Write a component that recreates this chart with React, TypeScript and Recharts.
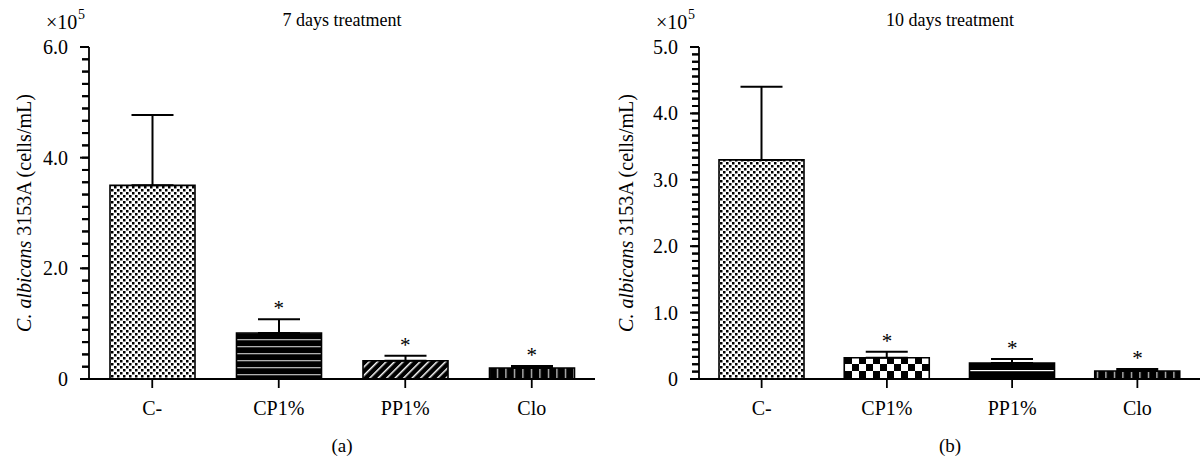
import { ComposedChart, Bar, Line, XAxis, YAxis, ErrorBar, LabelList, Cell } from "recharts"

const categories = ["C-", "CP1%", "PP1%", "Clo"]
const day7Mean = [3.5, 0.83, 0.33, 0.2]
const day7Err = [1.27, 0.25, 0.09, 0.035]
const day10Mean = [3.3, 0.32, 0.24, 0.12]
const day10Err = [1.1, 0.09, 0.06, 0.03]
const significant = [false, true, true, true]
const day7Majors = [0, 2, 4, 6]
const day10Majors = [0, 1, 2, 3, 4, 5]
const minorSteps = 9

const font = "Liberation Serif, serif"

function buildTicks(majors: number[]) {
  const out: number[] = []
  for (let k = 0; k < majors.length - 1; k++) {
    const step = (majors[k + 1] - majors[k]) / minorSteps
    for (let j = 0; j < minorSteps; j++) out.push(majors[k] + j * step)
  }
  out.push(majors[majors.length - 1])
  return out
}

function buildData(means: number[], errs: number[]) {
  return categories.map((name, i) => ({
    name,
    mean: means[i],
    err: [0, errs[i]],
    top: means[i] + errs[i],
  }))
}

// x arrives at the outer end of the 7px tick line
function YTick(props: any) {
  const { x, y, payload, majors } = props
  const major = majors.some((m: number) => Math.abs(m - payload.value) < 1e-6)
  return (
    <g>
      <line x1={major ? x - 2 : x} x2={x + 7} y1={y} y2={y} stroke="#000" strokeWidth={2} />
      {major ? (
        <text x={x - 14} y={y} dy="0.35em" textAnchor="end" fontSize={20} fill="#000" fontFamily={font}>
          {payload.value === 0 ? "0" : payload.value.toFixed(1)}
        </text>
      ) : null}
    </g>
  )
}

function XTick(props: any) {
  const { x, y, payload } = props
  return (
    <g>
      <line x1={x} x2={x} y1={y} y2={y + 9} stroke="#000" strokeWidth={1.8} />
      <text x={x} y={y + 36} textAnchor="middle" fontSize={20} fill="#000" fontFamily={font}>
        {payload.value}
      </text>
    </g>
  )
}

function Star(props: any) {
  const { x, y, index } = props
  if (!significant[index]) return null
  return (
    <text x={x} y={y - 4} textAnchor="middle" fontSize={21} fill="#000" fontFamily={font}>
      *
    </text>
  )
}

function Patterns({ id }: { id: string }) {
  return (
    <defs>
      <pattern id={`${id}-dots`} patternUnits="userSpaceOnUse" width={6} height={6}>
        <rect width={6} height={6} fill="#fff" />
        <rect x={0} y={0} width={2.5} height={2.5} fill="#000" />
        <rect x={3} y={3} width={2.5} height={2.5} fill="#000" />
      </pattern>
      <pattern id={`${id}-hstripe`} patternUnits="userSpaceOnUse" width={8} height={7}>
        <rect width={8} height={7} fill="#000" />
        <rect x={0} y={3} width={8} height={1.3} fill="#b0b0b0" />
      </pattern>
      <pattern id={`${id}-diag`} patternUnits="userSpaceOnUse" width={6} height={6} patternTransform="rotate(45)">
        <rect width={6} height={6} fill="#000" />
        <rect x={0} y={0} width={1.5} height={6} fill="#fff" />
      </pattern>
      <pattern id={`${id}-vtick`} patternUnits="userSpaceOnUse" width={8.5} height={6}>
        <rect width={8.5} height={6} fill="#000" />
        <rect x={4} y={0} width={1} height={6} fill="#fff" />
      </pattern>
      <pattern id={`${id}-check`} patternUnits="userSpaceOnUse" width={14} height={14}>
        <rect width={14} height={14} fill="#fff" />
        <rect x={0} y={0} width={7} height={7} fill="#000" />
        <rect x={7} y={7} width={7} height={7} fill="#000" />
      </pattern>
      <pattern id={`${id}-hline`} patternUnits="userSpaceOnUse" width={8} height={12}>
        <rect width={8} height={12} fill="#000" />
        <rect x={0} y={10} width={8} height={1.2} fill="#fff" />
      </pattern>
    </defs>
  )
}

function Panel(props: {
  id: string
  means: number[]
  errs: number[]
  majors: number[]
  fills: string[]
  axisWidth: number
  right: number
}) {
  const { id, means, errs, majors, fills, axisWidth, right } = props
  const data = buildData(means, errs)
  return (
    <ComposedChart width={600} height={462} data={data} margin={{ top: 47, right, bottom: 43, left: 0 }}>
      <Patterns id={id} />
      <XAxis
        dataKey="name"
        axisLine={{ stroke: "#000", strokeWidth: 1.8 }}
        tickLine={false}
        tickSize={0}
        tickMargin={0}
        height={40}
        interval={0}
        tick={(p: any) => <XTick {...p} />}
      />
      <YAxis
        width={axisWidth}
        domain={[majors[0], majors[majors.length - 1]]}
        ticks={buildTicks(majors)}
        interval={0}
        axisLine={{ stroke: "#000", strokeWidth: 1.8 }}
        tickLine={{ stroke: "#000", strokeWidth: 2 }}
        tickSize={7}
        tickMargin={0}
        tick={(p: any) => <YTick {...p} majors={majors} />}
      />
      <Bar dataKey="mean" barSize={85} stroke="#000" strokeWidth={1.6} isAnimationActive={false}>
        {data.map((d, i) => (
          <Cell key={d.name} fill={`url(#${id}-${fills[i]})`} />
        ))}
        <ErrorBar dataKey="err" width={21} stroke="#000" strokeWidth={2} direction="y" />
      </Bar>
      <Line dataKey="top" stroke="none" dot={false} activeDot={false} isAnimationActive={false}>
        <LabelList dataKey="top" content={(p: any) => <Star {...p} />} />
      </Line>
    </ComposedChart>
  )
}

export default function App() {
  return (
    <div style={{ position: "absolute", left: 0, top: 0, width: 1200, height: 462, background: "#fff", fontFamily: font }}>
      <div style={{ position: "absolute", left: 0, top: 0 }}>
        <Panel
          id="a"
          means={day7Mean}
          errs={day7Err}
          majors={day7Majors}
          fills={["dots", "hstripe", "diag", "vtick"]}
          axisWidth={89}
          right={5}
        />
      </div>
      <div style={{ position: "absolute", left: 600, top: 0 }}>
        <Panel
          id="b"
          means={day10Mean}
          errs={day10Err}
          majors={day10Majors}
          fills={["dots", "check", "hline", "vtick"]}
          axisWidth={99}
          right={0}
        />
      </div>
      <svg
        width={1200}
        height={462}
        style={{ position: "absolute", left: 0, top: 0, pointerEvents: "none" }}
        fontFamily={font}
        fill="#000"
      >
        <text x={46} y={29} fontSize={20}>×10</text>
        <text x={78} y={19} fontSize={14}>5</text>
        <text x={342} y={26} fontSize={18} textAnchor="middle">7 days treatment</text>
        <text transform="translate(31,213) rotate(-90)" fontSize={20} textAnchor="middle">
          <tspan fontStyle="italic">C. albicans</tspan> 3153A (cells/mL)
        </text>
        <text x={342} y={452} fontSize={19} textAnchor="middle">(a)</text>

        <text x={656} y={29} fontSize={20}>×10</text>
        <text x={688} y={19} fontSize={14}>5</text>
        <text x={950} y={26} fontSize={18} textAnchor="middle">10 days treatment</text>
        <text transform="translate(633,213) rotate(-90)" fontSize={20} textAnchor="middle">
          <tspan fontStyle="italic">C. albicans</tspan> 3153A (cells/mL)
        </text>
        <text x={950} y={452} fontSize={19} textAnchor="middle">(b)</text>
      </svg>
    </div>
  )
}
